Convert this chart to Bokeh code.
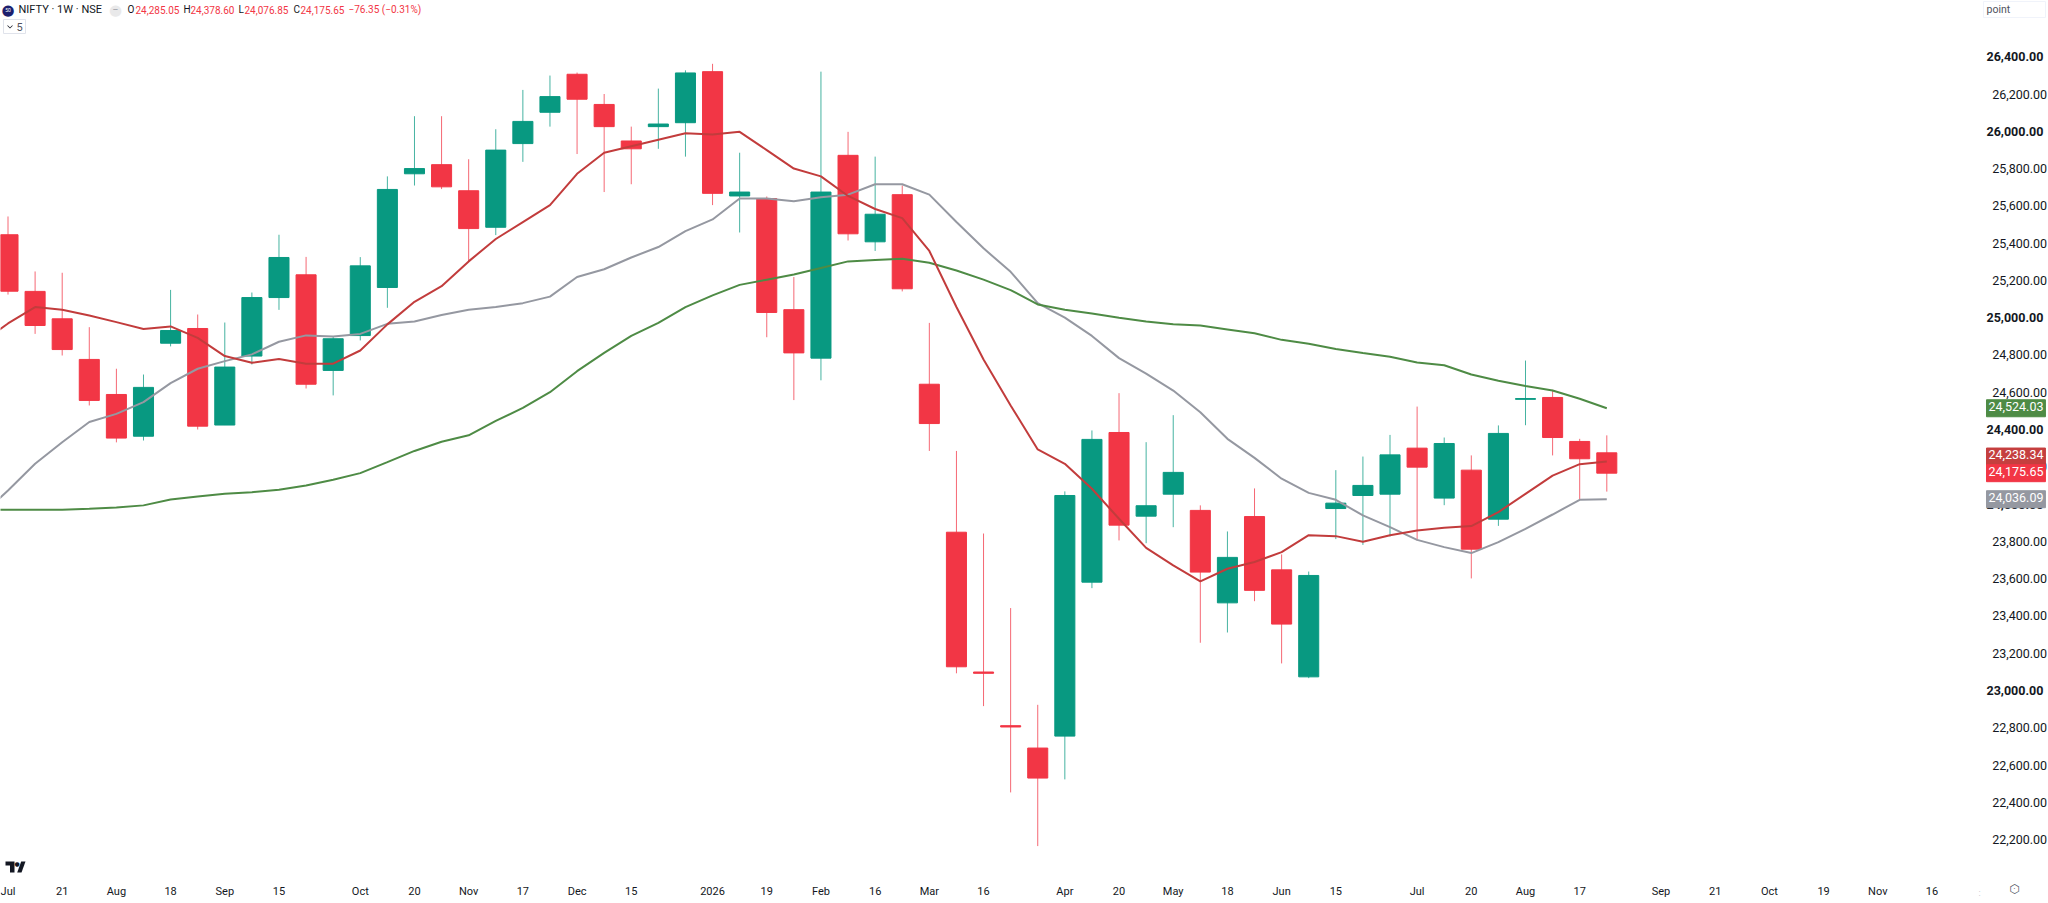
from bokeh.plotting import figure
from bokeh.models import ColumnDataSource, Range1d, LinearAxis, FixedTicker, Label, PolyAnnotation
from bokeh.embed import file_html
from bokeh.resources import INLINE

# Weekly OHLC, NIFTY
opens = [25455,25151,25004,24786,24598,24374,24873,24952,24434,24804,25118,25240,24727,24914,25172,25782,25831,25691,25495,25944,
         26112,26316,26154,25958,26035,26056,26330,25663,25649,25053,24793,25881,25417,25670,24653,23859,23109,22821,22701,22765,
         23591,24394,23945,24063,23976,23480,23943,23657,23083,23986,24056,24063,24310,24042,24192,23929,24572,24582,24346,24285.05]
highs = [25553,25258,25251,24959,24736,24705,25159,25027,24984,25145,25455,25336,24909,25335,25768,26091,26091,25860,26021,26232,
         26309,26325,26210,26035,26239,26337,26372,25895,25660,25228,26330,26007,25874,25719,24982,24295,23852,23452,22933,24078,
         24405,24605,24342,24487,24003,23863,24094,23740,23648,24192,24265,24381,24533,24367,24271,24432,24780,24623,24360,24378.60]
lows = [25134,24923,24807,24539,24341,24351,24856,24410,24434,24759,25052,24630,24593,24888,25063,25719,25700,25312,25453,25846,
        26035,25888,25684,25726,25916,25874,25614,25467,24905,24568,24674,25424,25368,25151,24295,23102,22926,22463,22175,22533,
        23559,23815,23800,23886,23266,23321,23489,23155,23076,23822,23791,23836,23815,24004,23611,23893,24433,24271,24033,24076.85]
closes = [25152,24968,24839,24566,24364,24636,24941,24428,24745,25118,25333,24653,24897,25288,25698,25810,25712,25488,25909,26063,
          26196,26182,26035,25916,26049,26323,25677,25684,25038,24821,25684,25460,25565,25165,24442,23137,23102,22814,22540,24056,
          24357,23897,24001,24180,23645,23724,23547,23366,23627,24015,24110,24274,24208,24335,23768,24389,24576,24367,24253,24175.65]

# Moving averages; the first value belongs to the week before the first visible candle
ma_red = [24875,24979,25067,25052,25022,24986,24949,24963,24902,24804,24768,24788,24763,24763,24834,24974,25095,25179,25312,25432,25523,
          25614,25782,25895,25930,25965,26000,25993,26007,25909,25810,25768,25663,25593,25544,25368,25067,24786,24539,24303,24226,
          24092,23931,23775,23681,23595,23663,23699,23752,23843,23838,23808,23843,23868,23883,23892,23967,24065,24163,24224,24238.34]
ma_grey = [23950,24083,24226,24342,24450,24494,24557,24659,24736,24777,24813,24881,24915,24909,24923,24977,24989,25024,25053,25067,25088,
           25123,25228,25270,25333,25389,25474,25537,25649,25649,25635,25656,25670,25726,25726,25670,25523,25382,25256,25088,25010,
           24912,24793,24710,24619,24503,24360,24258,24146,24070,24033,23949,23886,23818,23779,23747,23806,23877,23954,24033,24036.09]
ma_green = [23979,23979,23979,23979,23985,23992,24003,24035,24051,24065,24074,24087,24110,24140,24176,24235,24295,24344,24379,24456,24526,
            24610,24723,24821,24912,24982,25067,25130,25186,25214,25242,25277,25312,25319,25326,25305,25263,25214,25158,25081,25053,
            25032,25010,24989,24975,24968,24947,24926,24891,24870,24842,24820,24800,24770,24755,24705,24672,24643,24619,24575,24524.03]

time_ticks = [0,2,4,6,8,10,13,15,17,19,21,23,26,28,30,32,34,36,39,41,43,45,47,49,52,54,56,58,61,63,65,67,69,71]
time_labels = ["Jul","21","Aug","18","Sep","15","Oct","20","Nov","17","Dec","15","2026","19","Feb","16","Mar","16","Apr","20",
               "May","18","Jun","15","Jul","20","Aug","17","Sep","21","Oct","19","Nov","16"]
price_ticks = [22200 + 200*i for i in range(22)]
bold_ticks = [26400, 26000, 25000, 24400, 24000, 23000]
LABEL_NUDGE = 10  # tick texts sit a hair above their level, as in the reference

tags = [("24,524.03", 24524.03, "#4e8b45"), ("24,238.34", 24265, "#c53f3f"),
        ("24,175.65", 24175.65, "#f23645"), ("24,036.09", 24036.09, "#9598a1")]

UP, DOWN = "#089981", "#f23645"
FONT = "Roboto"
W, H = 2048, 903
PRICE_SIZE = "12.5px"

p = figure(width=W, height=H, output_backend="svg", toolbar_location=None,
           x_range=Range1d(-0.2768, 75.3), y_range=Range1d(21867, 26711.7),
           x_axis_location=None, y_axis_location=None,
           min_border=0, outline_line_color=None,
           background_fill_color="white", border_fill_color="white")
p.grid.visible = False

xs = list(range(len(opens)))
ma_xs = list(range(-1, len(opens)))
colors = [UP if c >= o else DOWN for o, c in zip(opens, closes)]
src = ColumnDataSource(dict(x=xs, o=opens, h=highs, l=lows, c=closes, color=colors,
                            top=[max(a, b) for a, b in zip(opens, closes)],
                            bot=[min(a, b) for a, b in zip(opens, closes)]))
p.segment("x", "h", "x", "l", source=src, line_color="color", line_width=1, line_alpha=0.75)
p.vbar("x", width=0.74, top="top", bottom="bot", source=src, fill_color="color", line_color="color", line_width=1)
p.line(ma_xs, ma_grey, line_color="#9598a1", line_width=2)
p.line(ma_xs, ma_green, line_color="#4e8b45", line_width=2)
p.line(ma_xs, ma_red, line_color="#c23c3c", line_width=2)

def style(ax):
    ax.axis_line_color = None
    ax.major_tick_line_color = None
    ax.minor_tick_line_color = None
    ax.major_label_text_font = FONT
    ax.major_label_text_color = "#131722"

bottom = LinearAxis(ticker=FixedTicker(ticks=time_ticks), fixed_location=22033,
                    major_label_overrides={t: s for t, s in zip(time_ticks, time_labels)})
style(bottom)
bottom.major_label_text_font_size = "11px"
bottom.major_label_standoff = 6
p.add_layout(bottom, "below")

shown = [t + LABEL_NUDGE for t in price_ticks]
right = LinearAxis(ticker=FixedTicker(ticks=shown), fixed_location=72.78,
                   major_label_overrides={t + LABEL_NUDGE: ("" if t in bold_ticks else f"{t:,.2f}") for t in price_ticks})
style(right)
right.major_label_text_font_size = PRICE_SIZE
right.major_label_standoff = 6
p.add_layout(right, "right")

def lab(text, px, py, size, color="#131722", bold=False, font=FONT, align="left", **kw):
    p.add_layout(Label(x=px, y=H-py, x_units="screen", y_units="screen", text=text,
                       text_font=font, text_font_size=f"{size}px", text_color=color,
                       text_font_style="bold" if bold else "normal",
                       text_align=align, text_baseline="middle", **kw))

def poly(pts, fill, line=None):
    p.add_layout(PolyAnnotation(xs=[a for a, _ in pts], ys=[H-b for _, b in pts],
                                xs_units="screen", ys_units="screen",
                                fill_color=fill, fill_alpha=1, line_color=line or fill,
                                line_alpha=1, line_width=1 if line else 0))

for t in bold_ticks:
    p.add_layout(Label(x=1986, y=t + LABEL_NUDGE, x_units="screen", y_units="data", text=f"{t:,.2f}",
                       text_font=FONT, text_font_size=PRICE_SIZE, text_font_style="bold",
                       text_color="#131722", text_align="left", text_baseline="middle"))

for txt, val, col in tags:
    p.add_layout(Label(x=1986, y=val, x_units="screen", y_units="data", text=txt,
                       text_font=FONT, text_font_size=PRICE_SIZE, text_color="white",
                       text_align="left", text_baseline="middle",
                       background_fill_color=col, border_line_color=col, padding=(2, 2, 2, 6)))

# header
HY = 9
lab("\u25cf", 7.5, HY, 15, "#1c1f6e", font="DejaVu Sans", align="center")
lab("50", 7.5, HY, 5, "white", align="center")
lab("NIFTY \u00b7 1W \u00b7 NSE", 18, HY, 11)
lab("\u25cf", 115, HY, 15, "#e9e9ea", font="DejaVu Sans", align="center")
lab("\u2013", 115, HY, 9, "#9598a1", align="center")
for pre, val, a, b in [("O", "24,285.05", 127, 135), ("H", "24,378.60", 183, 190),
                       ("L", "24,076.85", 238, 244), ("C", "24,175.65", 293, 300)]:
    lab(pre, a, HY, 10)
    lab(val, b, HY, 10, DOWN)
lab("\u221276.35 (\u22120.31%)", 348, HY, 10, DOWN)

# interval chip
poly([(3, 19), (25, 19), (25, 33), (3, 33)], "white", "#e0e3eb")
poly([(7, 24.5), (9.5, 27), (12, 24.5), (12, 25.5), (9.5, 28), (7, 25.5)], "#131722")
lab("5", 16, 26.5, 11, "#50535e")

# scale mode chip
poly([(1983, 1), (2045, 1), (2045, 17), (1983, 17)], "white", "#f0f3fa")
lab("point", 1986, 9, 10.5, "#50535e")

# logo
poly([(5, 861), (14, 861), (14, 872), (9.5, 872), (9.5, 865), (5, 865)], "#131722")
poly([(20.7, 861), (25, 861), (21, 872), (16.7, 872)], "#131722")
lab("\u25cf", 16.7, 863, 6, "#131722", font="DejaVu Sans", align="center")

# corner icons
lab(":", 1979, 892, 9, "#c0c3cc", align="center")
lab("\u2b21", 2014, 888, 12, "#50535e", font="DejaVu Sans", align="center")
lab("\u00b7", 2014, 888, 9, "#50535e", align="center")

open("out.html", "w").write(file_html(p, INLINE))
